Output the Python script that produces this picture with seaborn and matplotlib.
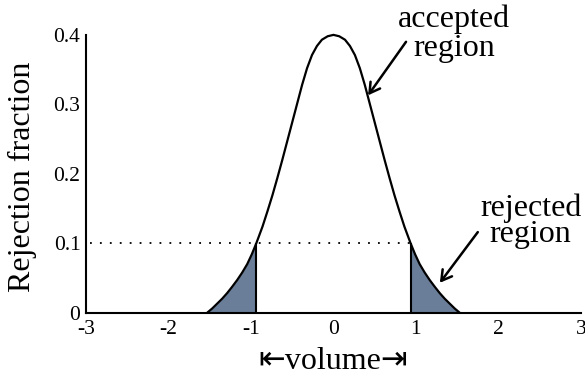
import matplotlib
matplotlib.use("Agg")
import matplotlib.pyplot as plt
import pandas as pd
import seaborn as sns

# right half of the curve (the curve is symmetric about 0)
half_volume = [0.0, 0.07, 0.14, 0.20, 0.26, 0.32, 0.38, 0.44, 0.50, 0.56,
               0.62, 0.68, 0.74, 0.80, 0.86, 0.935, 0.99, 1.045, 1.105,
               1.167, 1.23, 1.29, 1.35, 1.41, 1.47, 1.53]
half_fraction = [0.400, 0.398, 0.393, 0.384, 0.371, 0.352, 0.328, 0.301,
                 0.274, 0.247, 0.220, 0.194, 0.169, 0.146, 0.124, 0.100,
                 0.084, 0.070, 0.058, 0.047, 0.037, 0.028, 0.020, 0.013,
                 0.006, 0.0]
cutoff = 0.935       # volume where the curve crosses the rejection level
reject_level = 0.1
xticks = [-3, -2, -1, 0, 1, 2, 3]
xticklabels = ["-3", "-2", "-1", "0", "1", "2", "3"]
yticks = [0, 0.1, 0.2, 0.3, 0.4]
yticklabels = ["0", "0.1", "0.2", "0.3", "0.4"]

volume = [-v for v in half_volume[::-1]] + half_volume[1:]
fraction = half_fraction[::-1] + half_fraction[1:]
df = pd.DataFrame({"volume": volume, "fraction": fraction})

sns.set_theme(style="white")
plt.rcParams["font.family"] = ["Liberation Serif", "DejaVu Sans"]
plt.rcParams["axes.unicode_minus"] = False

fig, ax = plt.subplots(figsize=(5.85, 3.79), dpi=100)
fig.subplots_adjust(left=0.147, right=0.993, bottom=0.175, top=0.908)

fill_col = "#6A7E99"
left = df[df["volume"] <= -cutoff]
right = df[df["volume"] >= cutoff]
ax.fill_between(left["volume"], 0, left["fraction"], color=fill_col, lw=0, zorder=2)
ax.fill_between(right["volume"], 0, right["fraction"], color=fill_col, lw=0, zorder=2)
ax.vlines([-cutoff, cutoff], 0, reject_level, color="black", lw=1.5, zorder=3)

sns.lineplot(data=df, x="volume", y="fraction", color="black", lw=1.6,
             ax=ax, zorder=4, clip_on=False)
ax.lines[-1].set_solid_joinstyle("round")

# dotted rejection level
ax.hlines(reject_level, -2.95, cutoff, color="black", lw=1.3,
          linestyles=(0, (1, 4.5)), zorder=3)

ax.set_xlim(-3, 3)
ax.set_ylim(0, 0.4)
ax.set_xticks(xticks)
ax.set_xticklabels(xticklabels)
ax.set_yticks(yticks)
ax.set_yticklabels(yticklabels)
ax.tick_params(axis="both", direction="in", length=9, width=1.2,
               colors="black", labelsize=15.5)
ax.tick_params(axis="x", pad=5, length=8)
ax.tick_params(axis="y", pad=4)
ax.yaxis.get_major_ticks()[-1].tick1line.set_visible(False)

sns.despine(ax=ax)
for side in ["left", "bottom"]:
    ax.spines[side].set_linewidth(1.5)
    ax.spines[side].set_color("black")
    ax.spines[side].set_zorder(5)

ax.set_ylabel("Rejection fraction", fontsize=23, color="black")
ax.yaxis.set_label_coords(-0.099, 0.49)
ax.set_xlabel("⇤volume⇥", fontsize=23, color="black")
ax.xaxis.set_label_coords(0.5, -0.125)

arrow = dict(arrowstyle="->, head_length=0.6, head_width=0.35",
             color="black", lw=1.8, shrinkA=0, shrinkB=0)
ax.text(1.46, 0.401, "accepted\nregion", fontsize=23, ha="center",
        va="center", linespacing=1.0, color="black")
ax.annotate("", xy=(0.42, 0.313), xytext=(0.88, 0.39), arrowprops=arrow)
ax.text(2.39, 0.132, "rejected\nregion", fontsize=23, ha="center",
        va="center", linespacing=0.88, color="black")
ax.annotate("", xy=(1.29, 0.043), xytext=(1.75, 0.116), arrowprops=arrow)

fig.savefig("out.png", dpi=100)
